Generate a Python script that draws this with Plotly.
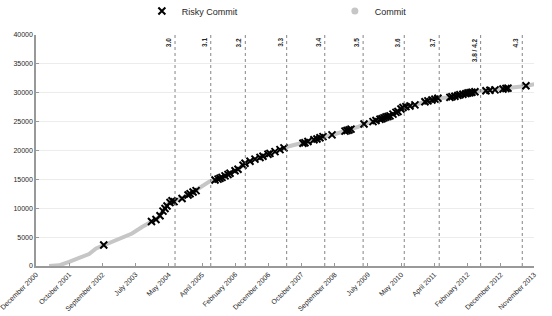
import datetime as dt
import plotly.graph_objects as go

# ---------------- data ----------------
commit_years = [2001.296, 2001.555, 2001.813, 2002.072, 2002.331, 2002.512, 2002.693, 2002.925,
                2003.184, 2003.443, 2003.701, 2003.934, 2004.115, 2004.244, 2004.374, 2004.477,
                2004.736, 2004.942, 2005.072, 2005.253, 2005.460, 2005.589, 2005.718, 2005.848,
                2005.977, 2006.184, 2006.365, 2006.623, 2006.830, 2007.011, 2007.192, 2007.347,
                2007.528, 2007.735, 2007.865, 2007.994, 2008.227, 2008.382, 2008.615, 2008.822,
                2009.002, 2009.106, 2009.287, 2009.442, 2009.675, 2009.933, 2010.114, 2010.321,
                2010.451, 2010.554, 2010.761, 2011.020, 2011.201, 2011.356, 2011.718, 2011.925,
                2012.132, 2012.313, 2012.597, 2012.830, 2013.088, 2013.631, 2013.864]
commit_counts = [0, 120, 700, 1300, 2080, 3030, 3550, 4240,
                 5020, 5630, 6750, 7670, 8310, 9600, 10800, 11300,
                 11690, 12470, 13000, 13850, 14700, 14890, 15190, 15580,
                 16050, 16740, 17780, 18500, 19000, 19500, 19900, 20380,
                 20780, 21130, 21250, 21520, 21990, 22390, 22680, 23120,
                 23430, 23670, 24070, 24590, 24990, 25580, 25970, 26720,
                 27480, 27590, 27880, 28450, 28740, 29040, 29210, 29610,
                 29900, 30180, 30350, 30480, 30770, 31170, 31520]

risky_years = [2002.711, 2003.947, 2004.063, 2004.167, 2004.244, 2004.296, 2004.348, 2004.425,
               2004.477, 2004.529, 2004.736, 2004.891, 2004.942, 2005.020, 2005.098, 2005.589,
               2005.667, 2005.718, 2005.770, 2005.848, 2005.925, 2005.977, 2006.106, 2006.184,
               2006.313, 2006.365, 2006.494, 2006.623, 2006.753, 2006.830, 2006.960, 2007.011,
               2007.141, 2007.270, 2007.373, 2007.865, 2007.916, 2007.994, 2008.149, 2008.227,
               2008.304, 2008.382, 2008.615, 2008.951, 2009.002, 2009.054, 2009.106, 2009.442,
               2009.675, 2009.752, 2009.856, 2009.908, 2009.959, 2010.011, 2010.063, 2010.114,
               2010.192, 2010.270, 2010.321, 2010.399, 2010.451, 2010.528, 2010.632, 2010.761,
               2011.020, 2011.097, 2011.201, 2011.278, 2011.356, 2011.666, 2011.718, 2011.796,
               2011.873, 2011.925, 2012.002, 2012.080, 2012.132, 2012.183, 2012.235, 2012.313,
               2012.597, 2012.700, 2012.830, 2013.037, 2013.114, 2013.166, 2013.631]
risky_counts = [3640, 7700, 8050, 8700, 9500, 9950, 10400, 11000,
                11300, 11150, 11700, 12300, 12500, 12800, 13050, 14900,
                15050, 15200, 15350, 15600, 15850, 16050, 16500, 16750,
                17450, 17800, 18150, 18500, 18800, 19000, 19350, 19500,
                19800, 20150, 20450, 21250, 21350, 21550, 21850, 22000,
                22200, 22400, 22700, 23350, 23450, 23550, 23700, 24600,
                25000, 25200, 25400, 25500, 25650, 25800, 25900, 26000,
                26300, 26600, 26750, 27200, 27450, 27600, 27700, 27900,
                28450, 28600, 28750, 28900, 29050, 29200, 29300, 29400,
                29550, 29650, 29750, 29850, 29950, 30000, 30100, 30180,
                30350, 30420, 30500, 30650, 30750, 30800, 31200]

release_names = ["3.0", "3.1", "3.2", "3.3", "3.4", "3.5", "3.6", "3.7", "3.8 / 4.2", "4.3"]
release_years = [2004.555, 2005.478, 2006.373, 2007.443, 2008.428, 2009.419,
                 2010.484, 2011.389, 2012.460, 2013.536]

tick_labels = ["December 2000", "October 2001", "September 2002", "July 2003", "May 2004",
               "April 2005", "February 2006", "December 2006", "October 2007",
               "September 2008", "July 2009", "May 2010", "April 2011", "February 2012",
               "December 2012", "November 2013"]
y_ticks = [0, 5000, 10000, 15000, 20000, 25000, 30000, 35000, 40000]


def yr2date(y):
    year = int(y)
    start = dt.datetime(year, 1, 1)
    end = dt.datetime(year + 1, 1, 1)
    return start + (end - start) * (y - year)


tick_start = dt.datetime(2000, 12, 17)
tick_step = dt.timedelta(days=313.6)
tick_vals = [tick_start + i * tick_step for i in range(len(tick_labels))]
pad = dt.timedelta(hours=12)

FONT = "Liberation Sans, Arial, sans-serif"
GREY = "#c6c6c6"
TXT = "#262626"

fig = go.Figure()
fig.add_trace(go.Scatter(
    x=[yr2date(v) for v in commit_years], y=commit_counts, mode="lines",
    line=dict(color=GREY, width=4), showlegend=False, hoverinfo="skip"))
fig.add_trace(go.Scatter(
    x=[yr2date(v) for v in risky_years], y=risky_counts, mode="markers",
    name="Risky Commit",
    marker=dict(symbol="x-thin", size=7, color="black",
                line=dict(color="black", width=2))))
fig.add_trace(go.Scatter(
    x=[None], y=[None], mode="markers", name="Commit",
    marker=dict(symbol="circle", size=7, color=GREY)))

for name, yr in zip(release_names, release_years):
    d = yr2date(yr)
    fig.add_shape(type="line", xref="x", yref="paper", x0=d, x1=d, y0=0, y1=1,
                  line=dict(color="#666666", width=0.8, dash="dot"))
    fig.add_annotation(x=d, y=0.995, xref="x", yref="paper", text="<b>" + name + "</b>",
                       textangle=-90, showarrow=False, xanchor="right", yanchor="top",
                       xshift=-1, font=dict(size=6.5, color=TXT, family=FONT))

fig.update_layout(
    template="none",
    width=552, height=316,
    margin=dict(l=36, r=18, t=35, b=50, autoexpand=False),
    paper_bgcolor="white", plot_bgcolor="white",
    font=dict(family=FONT, size=7, color=TXT),
    legend=dict(orientation="h", xref="container", yref="container",
                x=0.257, y=0.965, xanchor="left", yanchor="middle",
                entrywidth=148, entrywidthmode="pixels", bgcolor="rgba(0,0,0,0)",
                font=dict(size=9, color=TXT, family=FONT), itemwidth=30),
)
fig.update_xaxes(
    type="date", range=[tick_vals[0] - pad, tick_vals[-1] + pad],
    tickmode="array", tickvals=tick_vals, ticktext=tick_labels, tickangle=-45,
    ticklabeloverflow="allow",
    showline=True, linecolor="#999999", linewidth=1.5,
    ticks="inside", ticklen=3, tickcolor="#999999",
    showgrid=False, zeroline=False, tickfont=dict(size=7, color=TXT))
fig.update_yaxes(
    range=[0, 40000], tickmode="array", tickvals=y_ticks,
    ticktext=[str(v) for v in y_ticks],
    showline=True, linecolor="#999999", linewidth=1.5,
    ticks="inside", ticklen=3, tickcolor="#999999",
    showgrid=True, gridcolor="#ececec", gridwidth=1, zeroline=False,
    tickfont=dict(size=7, color=TXT))

fig.write_html("out.html", config={"displayModeBar": False},
               post_script="document.body.style.margin='0px';document.body.style.padding='0px';")
